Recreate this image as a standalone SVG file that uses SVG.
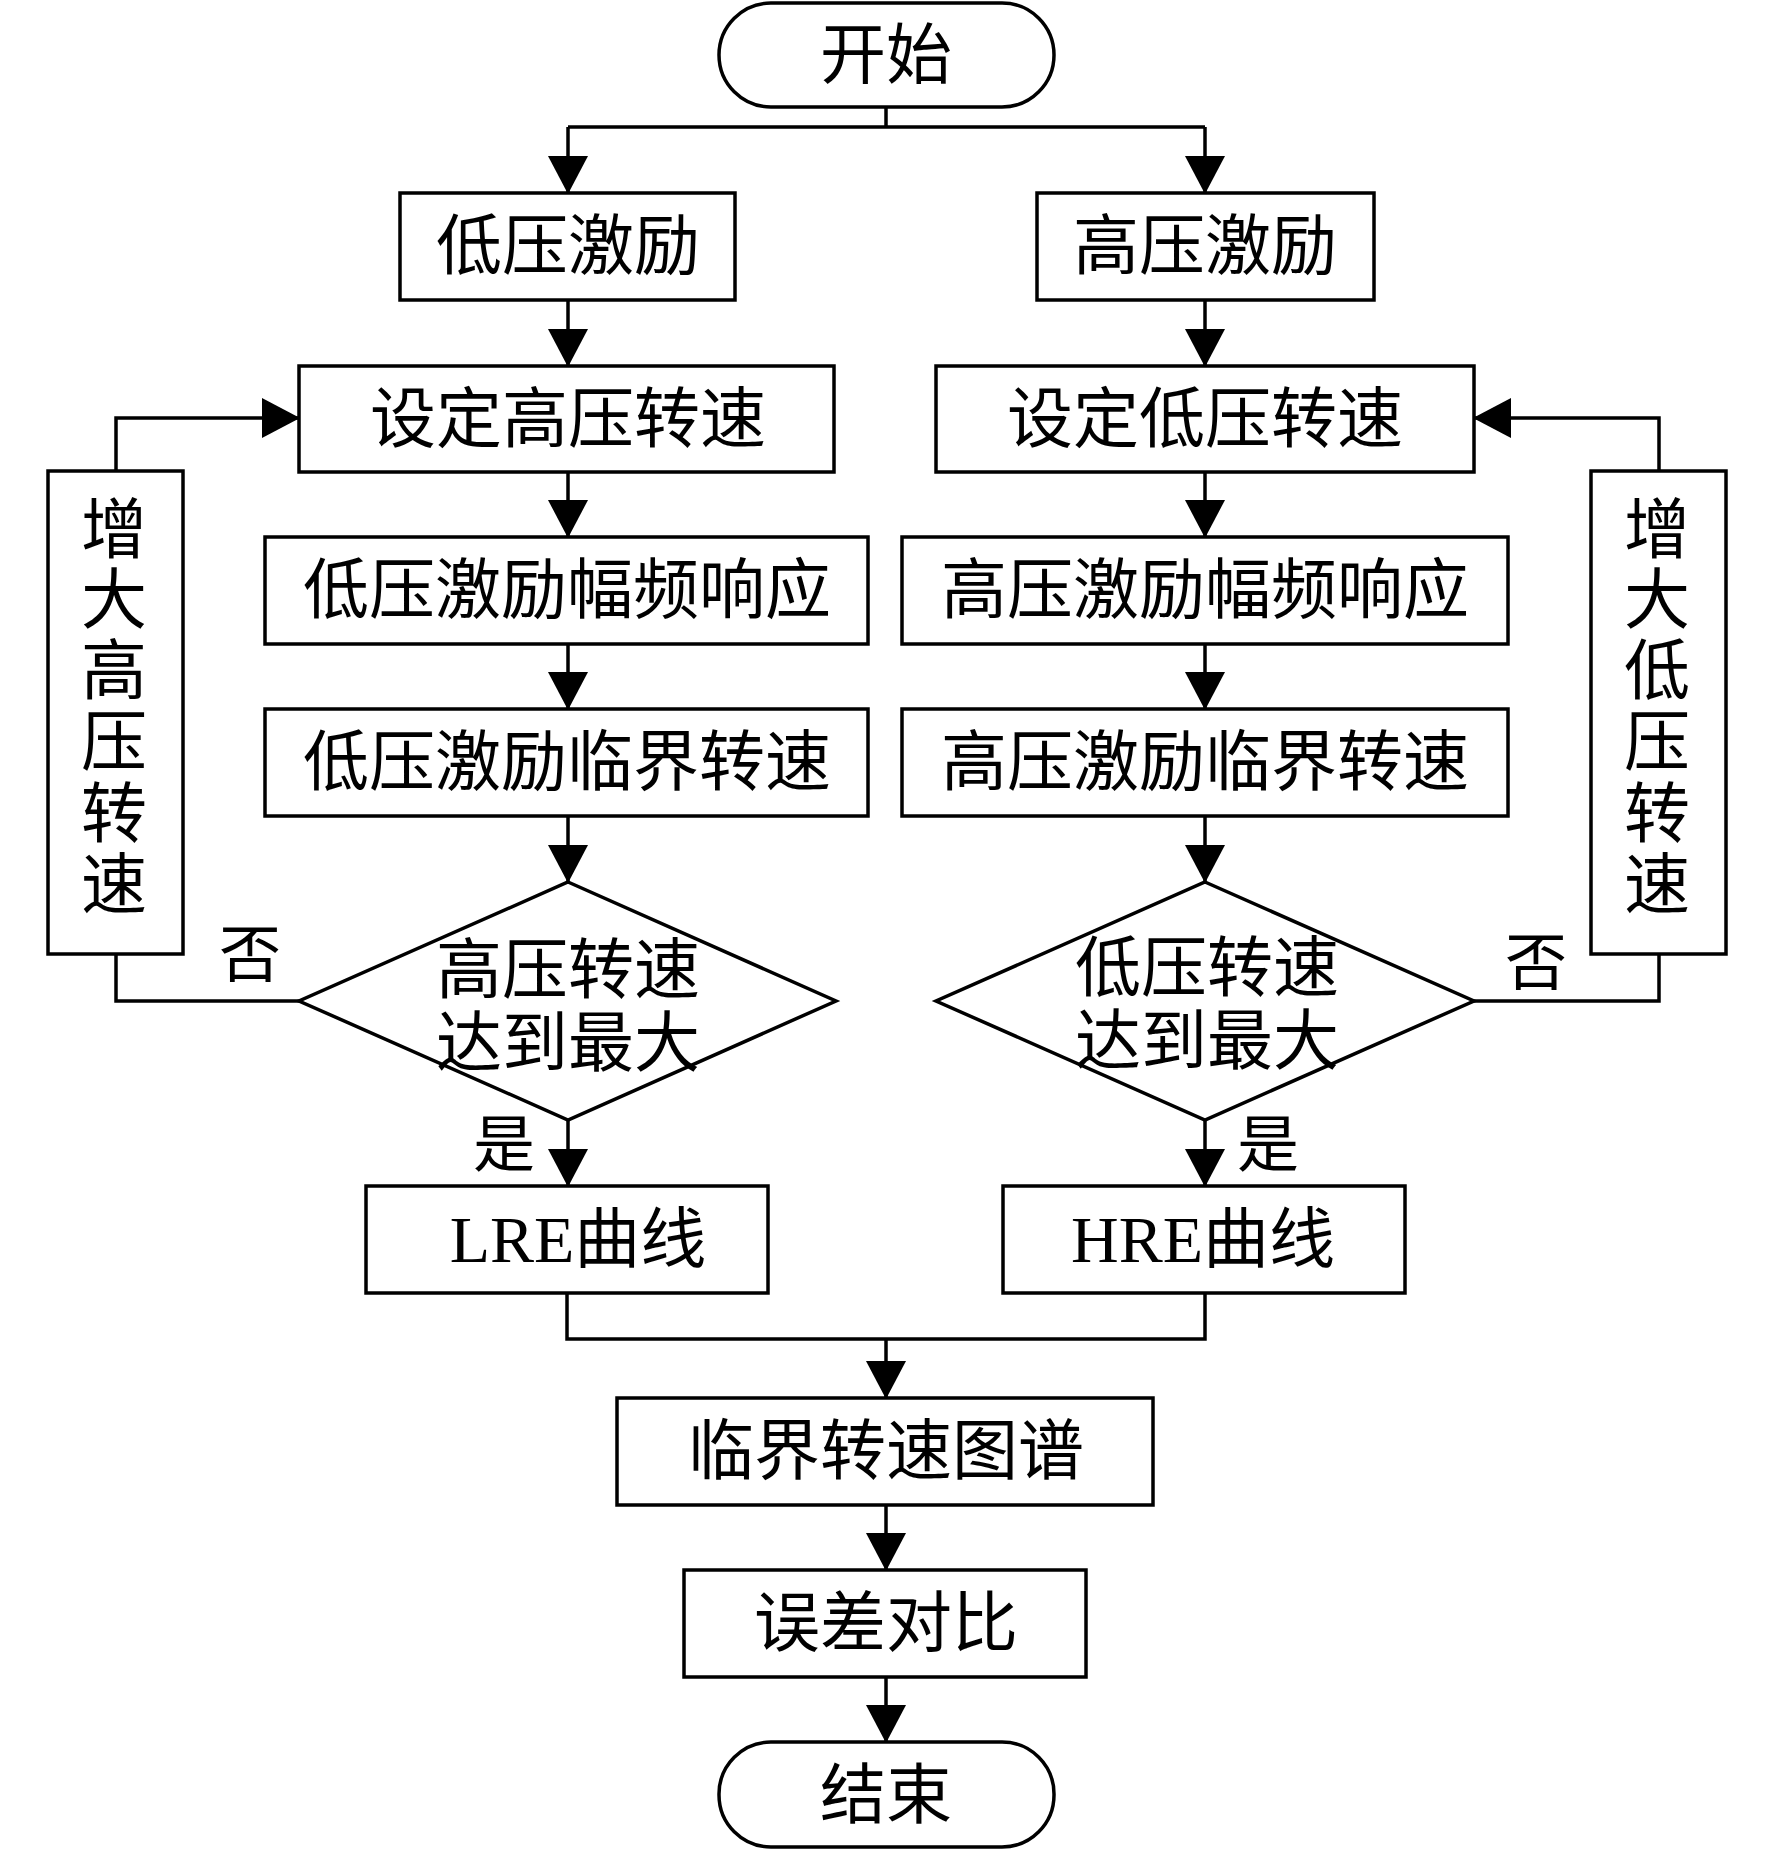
<svg xmlns="http://www.w3.org/2000/svg" width="1772" height="1851" viewBox="0 0 1772 1851">
<style>
.n{fill:#fff;stroke:#000;stroke-width:3.5}
.c{fill:none;stroke:#000;stroke-width:3.5}
text{font-family:"Liberation Serif","Noto Sans CJK SC",serif;font-size:66px;fill:#000;text-anchor:middle;dominant-baseline:central}
.s{font-size:62px}
</style>
<defs>
<marker id="a" markerUnits="userSpaceOnUse" markerWidth="38" markerHeight="40" refX="37" refY="20" orient="auto">
<path d="M0,0 L38,20 L0,40 z" fill="#000"/>
</marker>
</defs>
<rect width="1772" height="1851" fill="#fff"/>
<g id="connectors">
<path class="c" d="M886,107 V127 M568,127 H1205"/>
<path class="c" d="M568,127 V193" marker-end="url(#a)"/>
<path class="c" d="M1205,127 V193" marker-end="url(#a)"/>
<path class="c" d="M568,300 V366" marker-end="url(#a)"/>
<path class="c" d="M1205,300 V366" marker-end="url(#a)"/>
<path class="c" d="M568,472 V537" marker-end="url(#a)"/>
<path class="c" d="M1205,472 V537" marker-end="url(#a)"/>
<path class="c" d="M568,644 V709" marker-end="url(#a)"/>
<path class="c" d="M1205,644 V709" marker-end="url(#a)"/>
<path class="c" d="M568,816 V882" marker-end="url(#a)"/>
<path class="c" d="M1205,816 V882" marker-end="url(#a)"/>
<path class="c" d="M568,1120 V1186" marker-end="url(#a)"/>
<path class="c" d="M1205,1120 V1186" marker-end="url(#a)"/>
<path class="c" d="M299,1001 H116 V954"/>
<path class="c" d="M116,471 V418 H299" marker-end="url(#a)"/>
<path class="c" d="M1474,1001 H1659 V954"/>
<path class="c" d="M1659,471 V418 H1474" marker-end="url(#a)"/>
<path class="c" d="M567,1293 V1339 H1205 V1293"/>
<path class="c" d="M886,1339 V1398" marker-end="url(#a)"/>
<path class="c" d="M886,1505 V1570" marker-end="url(#a)"/>
<path class="c" d="M886,1677 V1742" marker-end="url(#a)"/>
<text class="s" x="250" y="956">否</text>
<text class="s" x="1536" y="964">否</text>
<text class="s" x="504" y="1146">是</text>
<text class="s" x="1268" y="1146">是</text>
</g>
<g id="start"><rect class="n" x="719" y="3" width="335" height="104" rx="52" ry="52"/><text x="886" y="55">开始</text></g>
<g id="lp-excite"><rect class="n" x="400" y="193" width="335" height="107"/><text x="568" y="246">低压激励</text></g>
<g id="hp-excite"><rect class="n" x="1037" y="193" width="337" height="107"/><text x="1205" y="246">高压激励</text></g>
<g id="set-hp"><rect class="n" x="299" y="366" width="535" height="106"/><text x="568" y="419">设定高压转速</text></g>
<g id="set-lp"><rect class="n" x="936" y="366" width="538" height="106"/><text x="1205" y="419">设定低压转速</text></g>
<g id="lp-resp"><rect class="n" x="265" y="537" width="603" height="107"/><text x="567" y="590">低压激励幅频响应</text></g>
<g id="hp-resp"><rect class="n" x="902" y="537" width="606" height="107"/><text x="1205" y="590">高压激励幅频响应</text></g>
<g id="lp-crit"><rect class="n" x="265" y="709" width="603" height="107"/><text x="567" y="762">低压激励临界转速</text></g>
<g id="hp-crit"><rect class="n" x="902" y="709" width="606" height="107"/><text x="1205" y="762">高压激励临界转速</text></g>
<g id="inc-hp"><rect class="n" x="48" y="471" width="135" height="483"/>
<text x="114" y="530">增</text><text x="114" y="600">大</text><text x="114" y="671">高</text><text x="114" y="742">压</text><text x="114" y="814">转</text><text x="114" y="885">速</text></g>
<g id="inc-lp"><rect class="n" x="1591" y="471" width="135" height="483"/>
<text x="1657" y="530">增</text><text x="1657" y="600">大</text><text x="1657" y="671">低</text><text x="1657" y="742">压</text><text x="1657" y="814">转</text><text x="1657" y="885">速</text></g>
<g id="dec-hp"><path class="n" d="M568,882 L836,1001 L568,1120 L299,1001 z"/><text x="568" y="970">高压转速</text><text x="568" y="1043">达到最大</text></g>
<g id="dec-lp"><path class="n" d="M1205,882 L1474,1001 L1205,1120 L936,1001 z"/><text x="1207" y="968">低压转速</text><text x="1207" y="1041">达到最大</text></g>
<g id="lre"><rect class="n" x="366" y="1186" width="402" height="107"/><text x="578" y="1239">LRE曲线</text></g>
<g id="hre"><rect class="n" x="1003" y="1186" width="402" height="107"/><text x="1203" y="1239">HRE曲线</text></g>
<g id="map"><rect class="n" x="617" y="1398" width="536" height="107"/><text x="886" y="1451">临界转速图谱</text></g>
<g id="err"><rect class="n" x="684" y="1570" width="402" height="107"/><text x="886" y="1623">误差对比</text></g>
<g id="end"><rect class="n" x="719" y="1742" width="335" height="105" rx="52" ry="52"/><text x="886" y="1795">结束</text></g>
</svg>
